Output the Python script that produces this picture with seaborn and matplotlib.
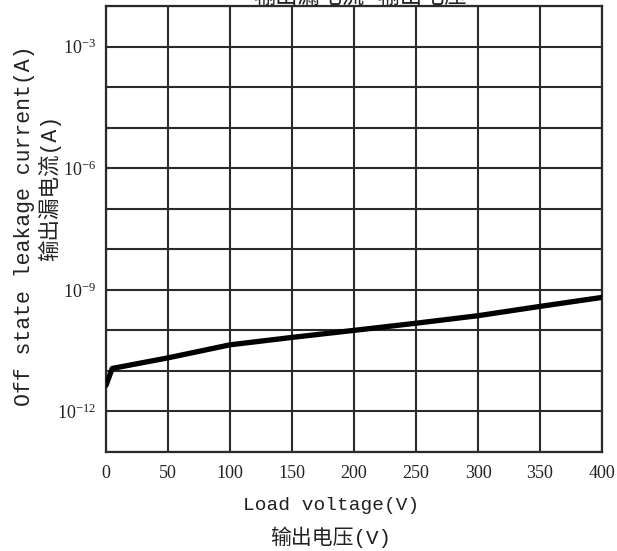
import matplotlib
matplotlib.use('agg')
import matplotlib.pyplot as plt
import matplotlib.ticker as mticker
import numpy as np
import pandas as pd
import seaborn as sns

# Off-state leakage current vs load voltage
voltage = [0, 5, 50, 100, 150, 200, 250, 300, 350, 400]
leakage = [4.4e-12, 1.15e-11, 2.1e-11, 4.4e-11, 6.7e-11, 1.0e-10, 1.5e-10, 2.3e-10, 3.9e-10, 6.5e-10]

x_ticks = [0, 50, 100, 150, 200, 250, 300, 350, 400]
y_major = [1e-12, 1e-9, 1e-6, 1e-3]
y_grid = [10.0 ** k for k in range(-13, -1)]

title = '输出漏电流-输出电压'
x_label_en = 'Load voltage(V)'
x_label_cn = '输出电压(V)'
y_label_en = 'Off state leakage current(A)'
y_label_cn = '输出漏电流(A)'

df = pd.DataFrame({'voltage': voltage, 'leakage': leakage})

sns.set_theme(style="white")
plt.rcParams['font.family'] = ['Liberation Serif', 'Noto Sans CJK SC']
plt.rcParams['mathtext.fontset'] = 'custom'
plt.rcParams['mathtext.rm'] = 'Liberation Serif'

grid_color = '#2a2a2a'
mono_cjk = ['Liberation Mono', 'Noto Sans CJK SC']

fig = plt.figure(figsize=(6.17, 5.51), dpi=100)
ax = fig.add_axes([106 / 617, 99 / 551, 496 / 617, 446 / 551])

sns.lineplot(data=df, x='voltage', y='leakage', ax=ax, color='black', linewidth=3.8, zorder=5)

ax.set_yscale('log')
ax.set_xlim(0, 400)
ax.set_ylim(1e-13, 1e-2)

ax.set_xticks(x_ticks)
ax.set_yticks(y_major)
ax.yaxis.set_major_formatter(mticker.LogFormatterSciNotation())
ax.yaxis.set_minor_locator(mticker.FixedLocator(y_grid))
ax.yaxis.set_minor_formatter(mticker.NullFormatter())

ax.grid(True, which='both', axis='y', color=grid_color, linewidth=1.5)
ax.grid(True, which='major', axis='x', color=grid_color, linewidth=1.5)
ax.tick_params(which='both', length=0, labelsize=13, colors='#222222')
ax.tick_params(axis='x', pad=9)
ax.tick_params(axis='y', pad=7)

for s in ax.spines.values():
    s.set_color(grid_color)
    s.set_linewidth(1.6)

ax.set_xlabel('')
ax.set_ylabel('')

fig.text(331 / 617, 1 - 505 / 551, x_label_en, family=mono_cjk, fontsize=14,
         ha='center', va='center', color='#222222')
fig.text(331 / 617, 1 - 537 / 551, x_label_cn, family=mono_cjk, fontsize=15,
         ha='center', va='center', color='#222222')
fig.text(25 / 617, 1 - 226 / 551, y_label_en, family=mono_cjk, fontsize=15.5,
         rotation=90, ha='center', va='center', color='#222222')
fig.text(50 / 617, 1 - 188 / 551, y_label_cn, family=mono_cjk, fontsize=15.5,
         rotation=90, ha='center', va='center', color='#222222')
fig.text(360 / 617, 1 - 4 / 551, title, family=mono_cjk, fontsize=16,
         ha='center', va='baseline', color='#222222')

fig.savefig('out.png', dpi=100, facecolor='white')
plt.close(fig)
